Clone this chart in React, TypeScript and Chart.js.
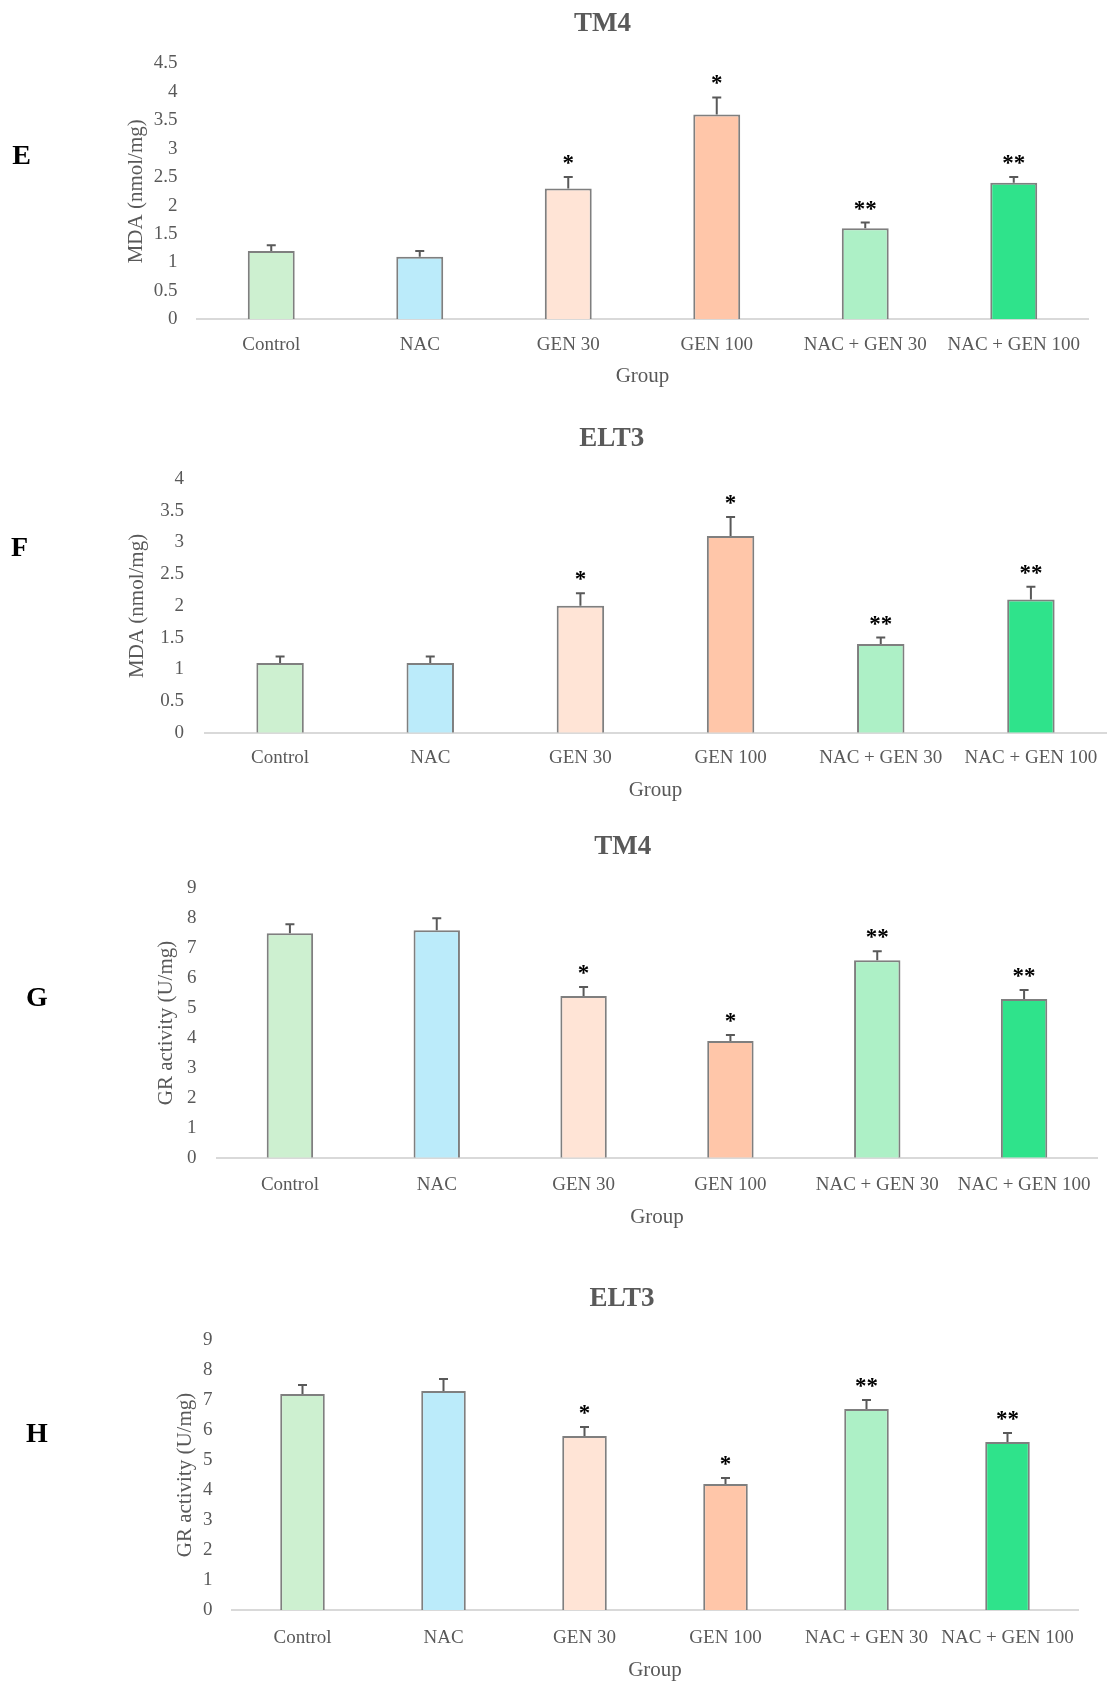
import { useEffect, useRef } from "react";
import { Chart, BarController, BarElement, CategoryScale, LinearScale } from "chart.js";

Chart.register(BarController, BarElement, CategoryScale, LinearScale);
Chart.defaults.font.family = "'Liberation Serif', 'Times New Roman', serif";

const GROUPS = ["Control", "NAC", "GEN 30", "GEN 100", "NAC + GEN 30", "NAC + GEN 100"];
const BAR_COLORS = ["#cdf0d0", "#bbebfa", "#ffe4d6", "#ffc6a9", "#adf0c6", "#2fe38b"];
const STARS = ["", "", "*", "*", "**", "**"];

// panel E: MDA, TM4
const MDA_TM4 = [1.2, 1.1, 2.3, 3.6, 1.6, 2.4];
const MDA_TM4_ERR = [0.1, 0.1, 0.2, 0.3, 0.1, 0.1];
// panel F: MDA, ELT3
const MDA_ELT3 = [1.1, 1.1, 2.0, 3.1, 1.4, 2.1];
const MDA_ELT3_ERR = [0.1, 0.1, 0.2, 0.3, 0.1, 0.2];
// panel G: GR activity, TM4
const GR_TM4 = [7.5, 7.6, 5.4, 3.9, 6.6, 5.3];
const GR_TM4_ERR = [0.3, 0.4, 0.3, 0.2, 0.3, 0.3];
// panel H: GR activity, ELT3
const GR_ELT3 = [7.2, 7.3, 5.8, 4.2, 6.7, 5.6];
const GR_ELT3_ERR = [0.3, 0.4, 0.3, 0.2, 0.3, 0.3];

const GREY = "#595959";
const PAGE_W = 1116;

// page geometry of each panel (pixels)
const LAYOUTS = {
  E: { top: 0, height: 410, left: 197, right: 1088, yTop: 63.3, y0: 319.3, tickPad: 19.5, yTitleX: 136, catY: 345, groupY: 376.7, titleX: 602.5, titleY: 21.7, letterX: 21.5, letterY: 155 },
  F: { top: 410, height: 410, left: 205, right: 1106, yTop: 479, y0: 732.7, tickPad: 21, yTitleX: 137.5, catY: 758.3, groupY: 790, titleX: 611.7, titleY: 436.7, letterX: 19.6, letterY: 546.7 },
  G: { top: 820, height: 430, left: 216.5, right: 1097.5, yTop: 888.3, y0: 1157.7, tickPad: 20, yTitleX: 166, catY: 1185, groupY: 1217.7, titleX: 622.7, titleY: 845, letterX: 36.8, letterY: 996.7 },
  H: { top: 1250, height: 444, left: 232, right: 1078, yTop: 1340, y0: 1610, tickPad: 19.5, yTitleX: 185.7, catY: 1637.7, groupY: 1670.7, titleX: 622, titleY: 1297.3, letterX: 37, letterY: 1432.7 },
};

function errorBars(values: number[], errors: number[], stars: string[]) {
  return {
    id: "errorBars",
    afterDatasetsDraw(chart: any) {
      const { ctx } = chart;
      const y = chart.scales.y;
      const meta = chart.getDatasetMeta(0);
      ctx.save();
      meta.data.forEach((bar: any, i: number) => {
        const base = y.getPixelForValue(values[i]);
        const top = y.getPixelForValue(values[i] + errors[i]);
        ctx.strokeStyle = GREY;
        ctx.lineWidth = 2;
        ctx.beginPath();
        ctx.moveTo(bar.x, base);
        ctx.lineTo(bar.x, top);
        ctx.moveTo(bar.x - 4.5, top);
        ctx.lineTo(bar.x + 4.5, top);
        ctx.stroke();
        if (stars[i]) {
          ctx.fillStyle = "#000";
          ctx.font = "bold 23px 'Liberation Serif', serif";
          ctx.textAlign = "center";
          ctx.textBaseline = "alphabetic";
          ctx.fillText(stars[i], bar.x, top - 7);
        }
      });
      ctx.restore();
    },
  };
}

interface PanelProps {
  letter: "E" | "F" | "G" | "H";
  title: string;
  yTitle: string;
  values: number[];
  errors: number[];
  yMax: number;
  yStep: number;
}

function Panel({ letter, title, yTitle, values, errors, yMax, yStep }: PanelProps) {
  const canvasRef = useRef<HTMLCanvasElement>(null);
  const g = LAYOUTS[letter];

  useEffect(() => {
    if (!canvasRef.current) return;
    const catLH = 19 * 1.2;
    const titleLH = 21 * 1.2;
    const xHeight = g.groupY - g.y0 + titleLH / 2;
    const padBottom = g.height - (g.y0 - g.top) - xHeight;

    const chart = new Chart(canvasRef.current, {
      type: "bar",
      data: {
        labels: GROUPS,
        datasets: [
          {
            data: values,
            backgroundColor: BAR_COLORS,
            borderColor: "#7f7f7f",
            borderWidth: 2,
            categoryPercentage: 1,
            barPercentage: 0.316,
          },
        ],
      },
      options: {
        responsive: false,
        animation: false,
        layout: {
          padding: { top: g.yTop - g.top, left: 0, right: PAGE_W - g.right, bottom: padBottom },
        },
        scales: {
          x: {
            grid: { display: false, drawTicks: false },
            border: { display: true, color: "#d9d9d9", width: 2 },
            ticks: {
              color: GREY,
              font: { size: 19 },
              padding: g.catY - g.y0 - catLH / 2,
              maxRotation: 0,
              autoSkip: false,
            },
            title: { display: true, text: "Group", color: GREY, font: { size: 21 }, padding: 0 },
            afterFit: (s: any) => {
              s.height = xHeight;
            },
          },
          y: {
            min: 0,
            max: yMax,
            grid: { display: false, drawTicks: false },
            border: { display: false },
            ticks: {
              stepSize: yStep,
              color: GREY,
              font: { size: 19 },
              padding: g.tickPad,
              callback: (v: any) => String(v),
            },
            title: {
              display: true,
              text: yTitle,
              color: GREY,
              font: { size: 21 },
              padding: { top: g.yTitleX - titleLH / 2, bottom: 0 },
            },
            afterFit: (s: any) => {
              s.width = g.left;
            },
          },
        },
      } as any,
      plugins: [errorBars(values, errors, STARS)],
    });

    return () => chart.destroy();
  }, []);

  return (
    <>
      <canvas
        ref={canvasRef}
        width={PAGE_W}
        height={g.height}
        style={{ position: "absolute", left: 0, top: g.top, width: PAGE_W, height: g.height }}
      />
      <div
        style={{
          position: "absolute",
          left: g.titleX,
          top: g.titleY,
          transform: "translate(-50%, -50%)",
          font: "bold 27px 'Liberation Serif', serif",
          lineHeight: 1,
          color: GREY,
          whiteSpace: "nowrap",
        }}
      >
        {title}
      </div>
      <div
        style={{
          position: "absolute",
          left: g.letterX,
          top: g.letterY,
          transform: "translate(-50%, -50%)",
          font: "bold 28px 'Liberation Serif', serif",
          lineHeight: 1,
          color: "#000",
        }}
      >
        {letter}
      </div>
    </>
  );
}

export default function App() {
  return (
    <div
      style={{
        position: "absolute",
        left: 0,
        top: 0,
        width: PAGE_W,
        height: 1694,
        background: "#fff",
        overflow: "hidden",
      }}
    >
      <Panel letter="E" title="TM4" yTitle="MDA (nmol/mg)" values={MDA_TM4} errors={MDA_TM4_ERR} yMax={4.5} yStep={0.5} />
      <Panel letter="F" title="ELT3" yTitle="MDA (nmol/mg)" values={MDA_ELT3} errors={MDA_ELT3_ERR} yMax={4} yStep={0.5} />
      <Panel letter="G" title="TM4" yTitle="GR activity (U/mg)" values={GR_TM4} errors={GR_TM4_ERR} yMax={9} yStep={1} />
      <Panel letter="H" title="ELT3" yTitle="GR activity (U/mg)" values={GR_ELT3} errors={GR_ELT3_ERR} yMax={9} yStep={1} />
    </div>
  );
}
